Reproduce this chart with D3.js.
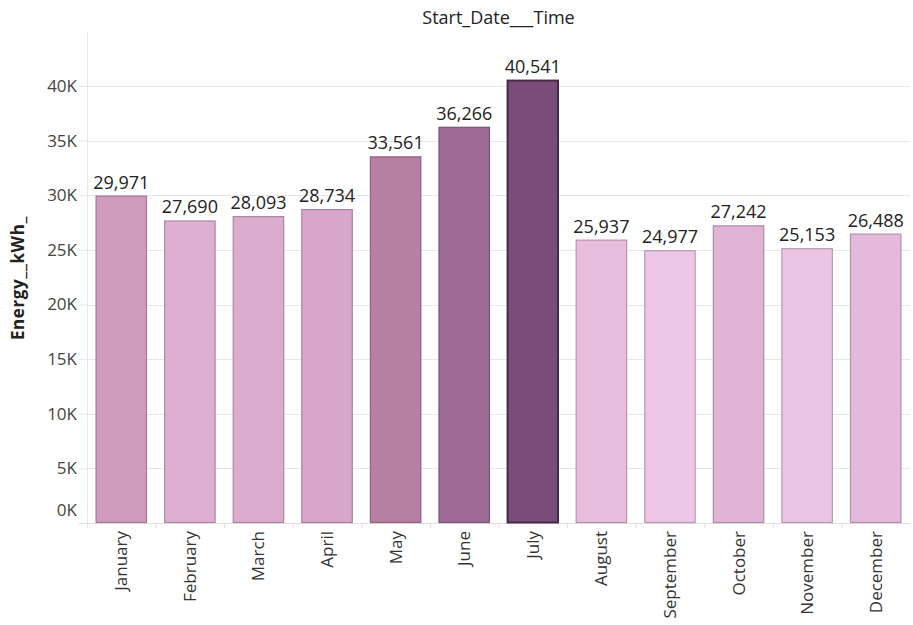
<!DOCTYPE html>
<html>
<head>
<meta charset="utf-8">
<script src="https://cdn.jsdelivr.net/npm/d3@7"></script>
<style>
  html, body { margin: 0; padding: 0; background: #fff; }
  svg { display: block; font-family: "Open Sans", "Noto Sans", sans-serif; }
</style>
</head>
<body>
<svg id="chart" width="913" height="625"></svg>
<script>
// Monthly energy totals (kWh)
const months = ["January", "February", "March", "April", "May", "June",
                "July", "August", "September", "October", "November", "December"];
const energy = [29971, 27690, 28093, 28734, 33561, 36266,
                40541, 25937, 24977, 27242, 25153, 26488];
const yTicks = [0, 5000, 10000, 15000, 20000, 25000, 30000, 35000, 40000];

const data = months.map((m, i) => ({ month: m, value: energy[i] }));

const svg = d3.select("#chart");
const margin = { top: 32, right: 3, bottom: 102, left: 87 };
const width = 913 - margin.left - margin.right;
const height = 625 - margin.top - margin.bottom;

const x = d3.scaleBand().domain(months).range([0, width])
  .paddingInner(0.25).paddingOuter(0.125);
const y = d3.scaleLinear().domain([0, 40000 * 491 / 437]).range([height, 0]);

// Sequential purple scale keyed on value
const color = d3.scaleLinear()
  .domain([24977, 27242, 29971, 33561, 36266, 40541])
  .range(["#ecc6e4", "#e1b3d5", "#cf9bbd", "#b77fa2", "#9e6b96", "#7a4c79"])
  .interpolate(d3.interpolateRgb)
  .clamp(true);

const g = svg.append("g").attr("transform", `translate(${margin.left},${margin.top})`);

// Gridlines
g.append("g").selectAll("line").data(yTicks.filter(d => d > 0)).join("line")
  .attr("x1", 0).attr("x2", width)
  .attr("y1", d => Math.round(y(d)) + 0.5).attr("y2", d => Math.round(y(d)) + 0.5)
  .attr("stroke", "#e8e8e8").attr("stroke-width", 1);

// Y axis
const yAxis = g.append("g")
  .call(d3.axisLeft(y).tickValues(yTicks).tickFormat(d => (d / 1000) + "K").tickSize(8).tickPadding(2));
yAxis.select(".domain").attr("stroke", "#e6e6e6").attr("d", `M0.5,0V${height}`);
yAxis.selectAll(".tick line").attr("stroke", "#e6e6e6").attr("x1", -8).attr("x2", 0);
yAxis.selectAll(".tick text").attr("fill", "#444").attr("font-size", 17)
  .attr("font-family", "'Open Sans', sans-serif")
  .attr("dy", d => d === 0 ? "-0.45em" : "0.32em");

// Baseline and band separators
g.append("line").attr("x1", -8).attr("x2", width).attr("y1", height + 0.5).attr("y2", height + 0.5)
  .attr("stroke", "#e0e0e0");
const step = x.step();
g.append("g").selectAll("line").data(d3.range(months.length)).join("line")
  .attr("x1", i => x(months[i]) - step * x.paddingInner() / 2 + 0.5)
  .attr("x2", i => x(months[i]) - step * x.paddingInner() / 2 + 0.5)
  .attr("y1", height).attr("y2", height + 5)
  .attr("stroke", "#e0e0e0");

// Bars
g.append("g").selectAll("rect").data(data).join("rect")
  .attr("x", d => x(d.month) + 0.5)
  .attr("y", d => y(d.value) + 0.5)
  .attr("width", x.bandwidth() - 1)
  .attr("height", d => height - y(d.value) - 1)
  .attr("fill", d => color(d.value))
  .attr("stroke", d => d3.color(color(d.value)).darker(d.value > 40000 ? 1.6 : 0.7))
  .attr("stroke-width", d => d.value > 40000 ? 2 : 1.2);

// Value labels
g.append("g").selectAll("text").data(data).join("text")
  .attr("x", d => x(d.month) + x.bandwidth() / 2)
  .attr("y", d => y(d.value) - 7)
  .attr("text-anchor", "middle")
  .attr("font-size", 18)
  .attr("fill", "#222")
  .text(d => d3.format(",")(d.value));

// Month labels (rotated)
g.append("g").selectAll("text").data(data).join("text")
  .attr("transform", d => `translate(${x(d.month) + x.bandwidth() / 2 + 6},${height + 8}) rotate(-90)`)
  .attr("text-anchor", "end")
  .attr("font-size", 17)
  .attr("fill", "#333")
  .text(d => d.month);

// Column header
svg.append("text")
  .attr("x", margin.left + width / 2)
  .attr("y", 24)
  .attr("text-anchor", "middle")
  .attr("font-size", 18)
  .attr("fill", "#222")
  .text("Start_Date___Time");

// Y axis title
svg.append("text")
  .attr("transform", `translate(24,${278}) rotate(-90)`)
  .attr("text-anchor", "middle")
  .attr("font-size", 17)
  .attr("font-weight", "bold")
  .attr("letter-spacing", 0.6)
  .attr("fill", "#222")
  .text("Energy__kWh_");
</script>
</body>
</html>
